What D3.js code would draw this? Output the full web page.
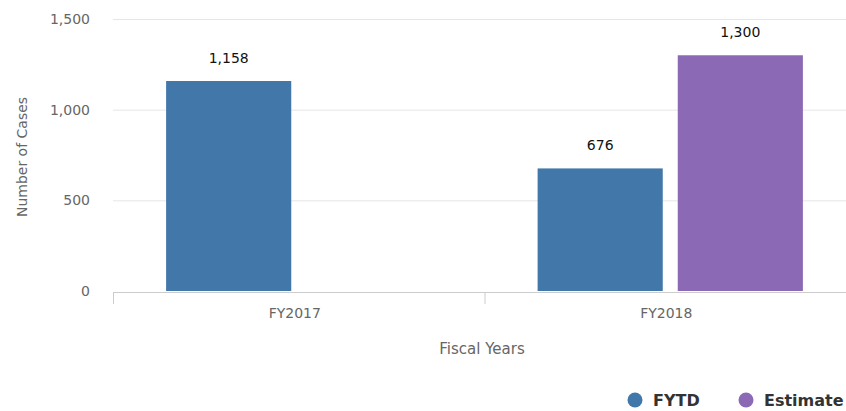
<!DOCTYPE html>
<html><head><meta charset="utf-8">
<script src="https://cdn.jsdelivr.net/npm/d3@7"></script>
<style>body{margin:0;background:#fff}svg{display:block;font-family:"DejaVu Sans",sans-serif}</style>
</head><body><svg id="c" width="846" height="411"></svg>
<script>
const categories = ["FY2017", "FY2018"];
const seriesNames = ["FYTD", "Estimate"];
const fytd = [1158, 676];
const estimate = [null, 1300];
const yTicks = [0, 500, 1000, 1500];
const colors = ["#4277aa", "#8c69b4"];

const svg = d3.select("#c");
const m = {left:113, right:856, top:19, bottom:291};
const x = d3.scaleBand().domain(categories).range([m.left, m.right]).paddingInner(0).paddingOuter(0);
const inner = d3.scaleBand().domain(seriesNames).range([0, x.bandwidth()]).paddingInner(0.107).paddingOuter(0.379);
const y = d3.scaleLinear().domain([0, 1500]).range([m.bottom, m.top]);

// gridlines
svg.append("g").selectAll("line").data(yTicks.filter(d=>d>0)).join("line")
  .attr("x1", m.left).attr("x2", m.right).attr("y1", d=>y(d)+0.5).attr("y2", d=>y(d)+0.5)
  .attr("stroke", "#e6e6e6").attr("stroke-width", 1);

// y tick labels
svg.append("g").selectAll("text").data(yTicks).join("text")
  .attr("x", 90).attr("y", d=>y(d)+5).attr("text-anchor","end")
  .attr("fill","#666").attr("font-size", 14).text(d=>d3.format(",")(d));

// y title
svg.append("text").attr("transform", `translate(27,${(m.top+m.bottom)/2+2}) rotate(-90)`)
  .attr("text-anchor","middle").attr("fill","#666").attr("font-size",14).text("Number of Cases");

// bars
const data = [];
categories.forEach((c,i)=>{
  [fytd[i], estimate[i]].forEach((v,j)=>{ if(v!=null) data.push({c, s:seriesNames[j], v, j}); });
});
svg.append("g").selectAll("rect").data(data).join("rect")
  .attr("x", d=>x(d.c)+inner(d.s)).attr("width", inner.bandwidth())
  .attr("y", d=>y(d.v)).attr("height", d=>y(0)-y(d.v)).attr("fill", d=>colors[d.j]);

svg.append("g").selectAll("text").data(data).join("text")
  .attr("x", d=>x(d.c)+inner(d.s)+inner.bandwidth()/2).attr("y", d=>y(d.v)-18)
  .attr("text-anchor","middle").attr("fill","#111").attr("font-size",14)
  .text(d=>d3.format(",")(d.v));

// x axis
const xa = svg.append("g");
xa.append("line").attr("x1", m.left).attr("x2", m.right).attr("y1", m.bottom+1.5).attr("y2", m.bottom+1.5)
  .attr("stroke","#ccc").attr("stroke-width",1);
const tickXs = categories.map(c=>x(c)).concat([x(categories[categories.length-1])+x.bandwidth()]);
xa.selectAll("line.t").data(tickXs).join("line").attr("class","t")
  .attr("x1", d=>d+0.5).attr("x2", d=>d+0.5).attr("y1", m.bottom+1).attr("y2", m.bottom+13)
  .attr("stroke","#ccc");
xa.selectAll("text").data(categories).join("text")
  .attr("x", d=>x(d)+x.bandwidth()/2-4).attr("y", 318).attr("text-anchor","middle")
  .attr("fill","#666").attr("font-size",14).text(d=>d);

svg.append("text").attr("x", 482).attr("y", 354).attr("text-anchor","middle")
  .attr("fill","#666").attr("font-size",15).text("Fiscal Years");

// legend
const leg = [{name:"FYTD", cx:635, tx:653},{name:"Estimate", cx:746, tx:764}];
const lg = svg.append("g");
lg.selectAll("circle").data(leg).join("circle").attr("cx", d=>d.cx).attr("cy", 400).attr("r", 7.5)
  .attr("fill", (d,i)=>colors[i]);
lg.selectAll("text").data(leg).join("text").attr("x", d=>d.tx).attr("y", 406)
  .attr("fill","#333").attr("font-size",16).attr("font-weight","bold").text(d=>d.name);
</script></body></html>
